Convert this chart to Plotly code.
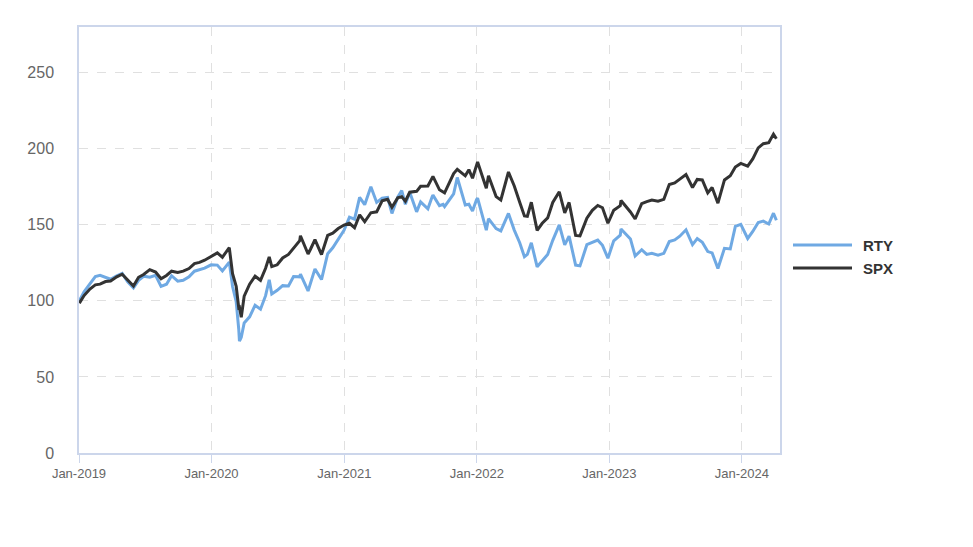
import plotly.graph_objects as go

dates = [
    "2019-01-02", "2019-01-15", "2019-01-31", "2019-02-15", "2019-02-28", "2019-03-15", "2019-03-29",
    "2019-04-15", "2019-04-30", "2019-05-15", "2019-05-31", "2019-06-14", "2019-06-28", "2019-07-15",
    "2019-07-31", "2019-08-15", "2019-08-30", "2019-09-13", "2019-09-30", "2019-10-15", "2019-10-31",
    "2019-11-15", "2019-11-29", "2019-12-13", "2019-12-31",
    "2020-01-17", "2020-01-31", "2020-02-19", "2020-02-28", "2020-03-09", "2020-03-16", "2020-03-18",
    "2020-03-23", "2020-03-31", "2020-04-15", "2020-04-30", "2020-05-15", "2020-05-29", "2020-06-08",
    "2020-06-15", "2020-06-30", "2020-07-15", "2020-07-31", "2020-08-14", "2020-08-31", "2020-09-02",
    "2020-09-23", "2020-09-30", "2020-10-12", "2020-10-30", "2020-11-16", "2020-11-30", "2020-12-15",
    "2020-12-31",
    "2021-01-15", "2021-01-29", "2021-02-12", "2021-02-26", "2021-03-15", "2021-03-31", "2021-04-15",
    "2021-04-30", "2021-05-12", "2021-05-28", "2021-06-08", "2021-06-18", "2021-06-30", "2021-07-19",
    "2021-07-30", "2021-08-19", "2021-08-31", "2021-09-02", "2021-09-20", "2021-09-30", "2021-10-04",
    "2021-10-29", "2021-11-08", "2021-11-30", "2021-12-10", "2021-12-20", "2021-12-31",
    "2022-01-03", "2022-01-27", "2022-02-02", "2022-02-23", "2022-03-08", "2022-03-29", "2022-04-14",
    "2022-04-29", "2022-05-12", "2022-05-20", "2022-05-31", "2022-06-16", "2022-06-30", "2022-07-15",
    "2022-07-29", "2022-08-16", "2022-08-31", "2022-09-12", "2022-09-30", "2022-10-12", "2022-10-31",
    "2022-11-15", "2022-11-30", "2022-12-13", "2022-12-28",
    "2023-01-13", "2023-01-31", "2023-02-02", "2023-02-28", "2023-03-13", "2023-03-31", "2023-04-14",
    "2023-04-28", "2023-05-15", "2023-05-31", "2023-06-15", "2023-06-30", "2023-07-14", "2023-07-31",
    "2023-08-18", "2023-08-31", "2023-09-14", "2023-09-29", "2023-10-11", "2023-10-27", "2023-11-14",
    "2023-11-30", "2023-12-14", "2023-12-29",
    "2024-01-17", "2024-01-31", "2024-02-15", "2024-02-29", "2024-03-15", "2024-03-28", "2024-04-05",
]

spx = [
    98.5, 103.5, 107.8, 110.5, 111.0, 112.7, 113.0,
    115.8, 117.5, 113.5, 109.8, 115.5, 117.3, 120.5,
    118.9, 114.5, 116.7, 119.5, 118.7, 119.5, 121.2,
    124.5, 125.3, 126.7, 128.9,
    131.5, 128.7, 135.0, 117.8, 109.5, 95.5, 95.8,
    89.2, 103.1, 111.0, 116.2, 113.5, 121.4, 128.9,
    122.5, 123.7, 128.2, 130.5, 134.5, 139.6, 142.8,
    130.8, 134.1, 140.3, 130.4, 143.0, 144.5, 147.5,
    149.8,
    151.0, 148.1, 156.5, 152.0, 157.9, 158.5, 165.8,
    166.8, 161.5, 167.7, 168.5, 165.5, 171.4, 172.0,
    175.3, 175.5, 180.4, 181.8, 173.0, 171.8, 171.0,
    183.7, 186.5, 182.2, 186.2, 180.6, 190.1,
    191.3, 174.0, 182.2, 168.5, 166.3, 184.7, 175.5,
    164.8, 155.8, 155.6, 164.8, 146.3, 151.0, 154.5,
    164.7, 171.7, 157.8, 164.7, 143.0, 142.7, 154.4,
    159.5, 162.7, 161.2, 151.0,
    159.6, 162.6, 166.0, 158.4, 153.8, 163.9, 165.2,
    166.3, 165.5, 166.7, 176.5, 177.5, 180.0, 183.0,
    174.5, 179.8, 179.5, 171.0, 174.5, 164.2, 179.5,
    182.2, 188.0, 190.3,
    188.5, 193.3, 200.5, 203.3, 204.0, 209.6, 206.5,
]

rty = [
    100.0, 106.0, 111.2, 116.0, 116.8, 115.5, 114.2,
    116.5, 118.0, 112.5, 108.6, 113.5, 116.2, 115.5,
    116.8, 109.5, 110.9, 116.5, 112.9, 113.5, 115.8,
    119.5, 120.5, 121.5, 123.7,
    123.5, 119.7, 125.5, 109.4, 99.5, 81.5, 73.5,
    76.0, 85.5, 89.5, 97.1, 94.5, 103.4, 113.8,
    104.5, 106.9, 110.0, 109.8, 116.0, 115.8, 117.5,
    106.5, 111.8, 121.0, 114.0, 131.0, 134.9, 140.5,
    146.4,
    155.0, 153.7, 168.0, 163.2, 175.0, 164.7, 167.5,
    168.0, 157.5, 168.2, 172.5, 163.5, 171.4, 158.5,
    165.0, 160.5, 168.6, 169.5, 162.5, 163.4, 162.0,
    170.3, 181.1, 163.0, 163.5, 159.0, 166.5,
    167.5, 146.5, 154.0, 147.5, 146.0, 157.5, 146.5,
    138.2, 129.0, 130.5, 138.2, 122.4, 126.6, 130.5,
    139.8, 149.9, 136.8, 142.5, 123.5, 123.0, 136.9,
    138.5, 139.9, 136.5, 128.0,
    139.5, 143.2, 147.2, 140.7, 129.5, 133.6, 130.5,
    131.2, 130.0, 131.2, 139.0, 140.1, 142.5, 146.7,
    137.0, 140.9, 138.5, 132.4, 131.5, 121.3, 134.5,
    134.1, 149.0, 150.3,
    141.0, 145.6, 151.5, 152.4, 150.5, 157.6, 153.0,
]

series_names = ["RTY", "SPX"]
series_colors = ["#6fa9e3", "#333333"]

y_ticks = [0, 50, 100, 150, 200, 250]

fig = go.Figure()
for name, vals, col in zip(series_names, [rty, spx], series_colors):
    fig.add_trace(go.Scatter(x=dates, y=vals, mode="lines", name=name,
                             line=dict(color=col, width=3), showlegend=False))

W, H = 973, 547
ml, mr, mt, mb = 79, 193, 27, 94
pw = W - ml - mr
ph = H - mt - mb

fig.update_layout(
    width=W, height=H,
    margin=dict(l=ml, r=mr, t=mt, b=mb),
    paper_bgcolor="white", plot_bgcolor="white",
    font=dict(family="Liberation Sans, Arial, sans-serif", color="#666666"),
)
fig.update_xaxes(
    type="date", range=["2019-01-01", "2024-04-15"],
    tick0="2019-01-01", dtick="M12", tickformat="%b-%Y",
    showgrid=True, gridcolor="#e0e0e0", griddash="dash", gridwidth=1,
    showline=True, linecolor="#ccd6eb", linewidth=1.5, mirror=True,
    ticks="outside", ticklen=8, tickcolor="#ccd6eb",
    tickfont=dict(size=13, color="#666666"), zeroline=False,
)
fig.update_yaxes(
    range=[0, 280], tickvals=y_ticks,
    showgrid=True, gridcolor="#e0e0e0", griddash="dash", gridwidth=1,
    showline=True, linecolor="#ccd6eb", linewidth=1.5, mirror=True,
    ticks="", ticklabelstandoff=20,
    tickfont=dict(size=16, color="#666666"), zeroline=False,
)

# manual legend
leg_y = [245, 268]
for name, col, ypx in zip(series_names, series_colors, leg_y):
    yp = (H - mb - ypx) / ph
    fig.add_shape(type="line", xref="paper", yref="paper",
                  x0=(793 - ml) / pw, x1=(852 - ml) / pw, y0=yp, y1=yp,
                  line=dict(color=col, width=3))
    fig.add_annotation(xref="paper", yref="paper", x=(861 - ml) / pw, y=yp,
                       text="<b>" + name + "</b>", showarrow=False,
                       xanchor="left", yanchor="middle",
                       font=dict(size=15, color="#333333"))

fig.write_html("out.html")
